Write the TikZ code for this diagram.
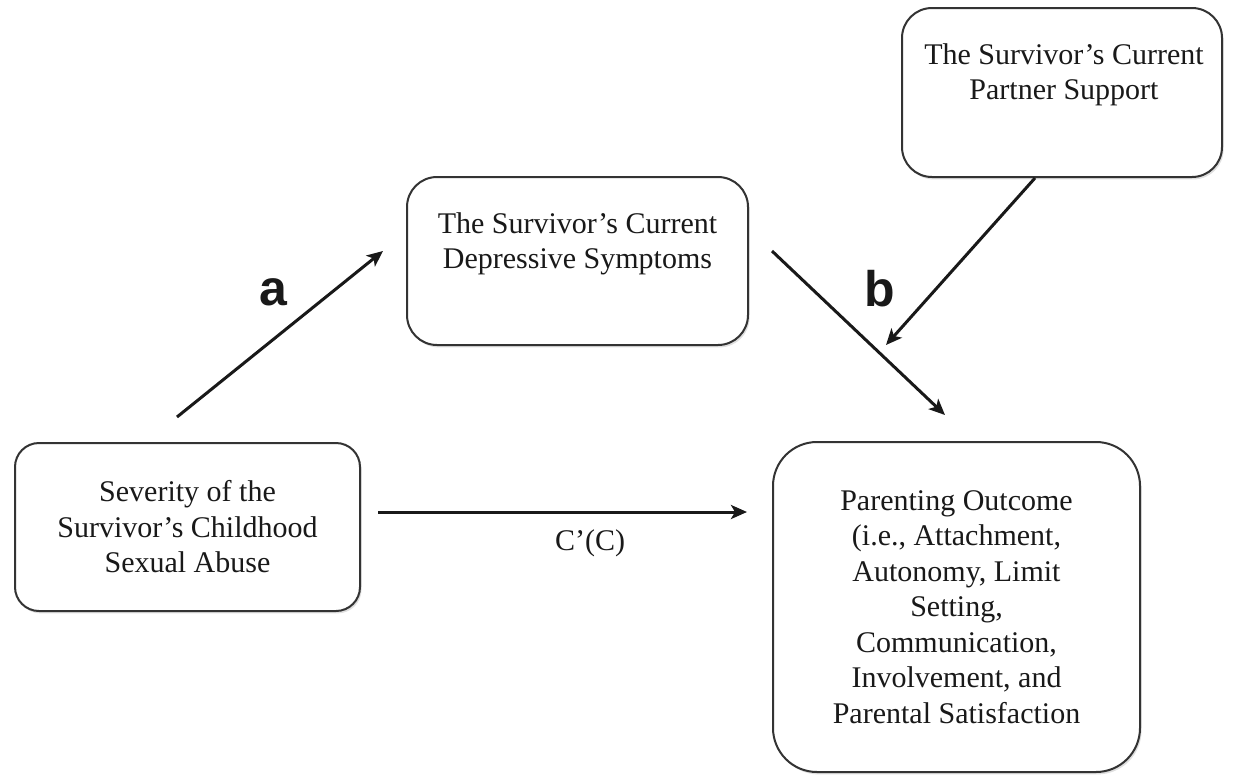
\documentclass[tikz,border=0pt]{standalone}
\usepackage{fontspec}
\setmainfont{Liberation Serif}
\newfontfamily\letrafont{Liberation Sans}
\usetikzlibrary{arrows.meta,shadows}

\tikzset{
  caja/.style={draw=black!80, line width=1pt, rounded corners=#1, fill=white,
    drop shadow={shadow xshift=0.8pt, shadow yshift=-1.2pt, opacity=0.25}},
  caja/.default=15pt,
  texto/.style={align=center, font=\fontsize{15}{17.75}\selectfont, text=black!90},
  flecha/.style={line width=1.5pt, draw=black!90, -{Stealth[length=8pt,width=7pt,inset=2pt]}},
  letra/.style={font=\letrafont\bfseries\fontsize{25}{25}\selectfont, text=black!90}
}

\begin{document}
\begin{tikzpicture}[x=0.5pt,y=-0.5pt]
        % Fija el marco de la figura
        \useasboundingbox (0,0) rectangle (1247,777);

        % Caja de la variable independiente
        \node[caja=12pt, minimum width=172.5pt, minimum height=84pt, texto] (abuso) at (187.5,527)
            {Severity of the\\Survivor's Childhood\\Sexual Abuse};

        % Caja del mediador (texto arriba)
        \node[caja, minimum width=170.5pt, minimum height=84pt] (depresion) at (577.5,261) {};
        \node[texto] (depresiontxt) at (577.5,244) {The Survivor's Current\\Depressive Symptoms};

        % Caja del moderador (texto arriba)
        \node[caja, minimum width=160pt, minimum height=84.5pt] (pareja) at (1062,92.5) {};
        \node[texto] (parejatxt) at (1064,75) {The Survivor's Current\\Partner Support};

        % Caja del resultado
        \node[caja=22pt, minimum width=183.5pt, minimum height=165pt, texto] (crianza) at (956.5,607)
            {Parenting Outcome\\(i.e., Attachment,\\Autonomy, Limit\\Setting,\\Communication,\\Involvement, and\\Parental Satisfaction};

        % Extremos de las flechas
        \coordinate (a1) at (177,417);
        \coordinate (a2) at (383,251);
        \coordinate (b1) at (772,251);
        \coordinate (b2) at (945,415);
        \coordinate (m1) at (1035,178);
        \coordinate (m2) at (886,345);
        \coordinate (c1) at (378,512);
        \coordinate (c2) at (747,512);

        % Dibuja las flechas
        \draw[flecha] (a1) -- (a2);
        \draw[flecha] (b1) -- (b2);
        \draw[flecha] (m1) -- (m2);
        \draw[flecha] (c1) -- (c2);

        % Etiqueta los caminos
        \node[letra] (etiqa) at (273,292) {a};
        \node[letra] (etiqb) at (880,289) {b};
        \node[texto] (etiqc) at (590,543) {C'(C)};
    \end{tikzpicture}
\end{document}
